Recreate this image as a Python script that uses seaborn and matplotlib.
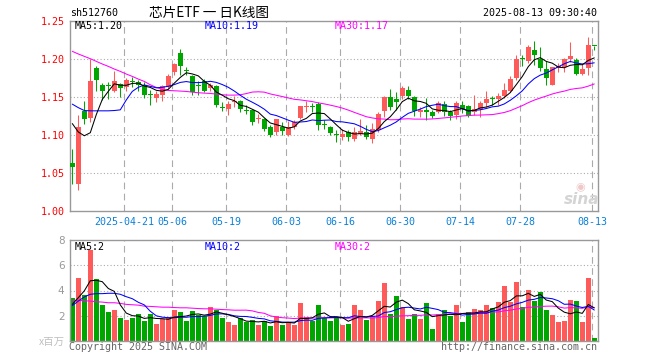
import numpy as np
import pandas as pd
import matplotlib
matplotlib.use("Agg")
import matplotlib.pyplot as plt
import seaborn as sns

# ---------------- data ----------------
opens = [1.0636, 1.0359, 1.1322, 1.1221, 1.1877, 1.1661, 1.1648, 1.1573, 1.1670, 1.1630,
         1.1705, 1.1696, 1.1661, 1.1534, 1.1481, 1.1520, 1.1630, 1.1828, 1.2079, 1.1850,
         1.1780, 1.1652, 1.1705, 1.1617, 1.1639, 1.1362, 1.1344, 1.1428, 1.1450, 1.1331,
         1.1331, 1.1212, 1.1212, 1.1107, 1.1045, 1.1111, 1.1001, 1.1102, 1.1221, 1.1371,
         1.1384, 1.1410, 1.1142, 1.1111, 1.1010, 1.0979, 1.1036, 1.0948, 1.1019, 1.1036,
         1.0948, 1.1067, 1.1318, 1.1494, 1.1476, 1.1507, 1.1595, 1.1494, 1.1309, 1.1331,
         1.1309, 1.1309, 1.1406, 1.1300, 1.1265, 1.1397, 1.1388, 1.1300, 1.1344, 1.1419,
         1.1481, 1.1476, 1.1507, 1.1573, 1.1749, 1.2013, 1.1969, 1.2123, 1.2000, 1.1872,
         1.1661, 1.1881, 1.1890, 1.2000, 1.1991, 1.1802, 1.1881, 1.2176]
highs = [1.0816, 1.1265, 1.1441, 1.2000, 1.1912, 1.1683, 1.1696, 1.1846, 1.1683, 1.1749,
         1.1758, 1.1718, 1.1692, 1.1595, 1.1573, 1.1661, 1.1802, 1.1947, 1.2136, 1.1894,
         1.1793, 1.1705, 1.1740, 1.1683, 1.1652, 1.1428, 1.1450, 1.1507, 1.1463, 1.1397,
         1.1344, 1.1274, 1.1221, 1.1133, 1.1212, 1.1168, 1.1186, 1.1199, 1.1388, 1.1441,
         1.1419, 1.1428, 1.1199, 1.1124, 1.1067, 1.1080, 1.1067, 1.1111, 1.1212, 1.1133,
         1.1155, 1.1300, 1.1507, 1.1608, 1.1564, 1.1639, 1.1639, 1.1507, 1.1375, 1.1485,
         1.1331, 1.1441, 1.1441, 1.1331, 1.1450, 1.1450, 1.1397, 1.1520, 1.1441, 1.1582,
         1.1507, 1.1551, 1.1683, 1.1771, 1.2057, 1.2048, 1.2189, 1.2233, 1.2154, 1.1978,
         1.1894, 1.1947, 1.2013, 1.2224, 1.2013, 1.1934, 1.2286, 1.2176]
lows = [1.0359, 1.0280, 1.1142, 1.1168, 1.1573, 1.1463, 1.1476, 1.1564, 1.1503, 1.1573,
        1.1626, 1.1573, 1.1485, 1.1397, 1.1428, 1.1441, 1.1608, 1.1793, 1.1793, 1.1784,
        1.1529, 1.1529, 1.1564, 1.1573, 1.1375, 1.1318, 1.1265, 1.1375, 1.1309, 1.1274,
        1.1133, 1.1155, 1.1054, 1.0979, 1.1001, 1.1001, 1.0992, 1.1080, 1.1212, 1.1300,
        1.1309, 1.1067, 1.1076, 1.1001, 1.0913, 1.0935, 1.0922, 1.0922, 1.1001, 1.0948,
        1.0891, 1.1045, 1.1243, 1.1331, 1.1331, 1.1476, 1.1476, 1.1253, 1.1243, 1.1199,
        1.1230, 1.1287, 1.1256, 1.1199, 1.1212, 1.1287, 1.1243, 1.1265, 1.1243, 1.1362,
        1.1397, 1.1397, 1.1485, 1.1564, 1.1727, 1.1903, 1.1947, 1.1925, 1.1846, 1.1652,
        1.1652, 1.1828, 1.1828, 1.1960, 1.1784, 1.1784, 1.1793, 1.2123]
closes = [1.0574, 1.1111, 1.1217, 1.1714, 1.1727, 1.1573, 1.1640, 1.1714, 1.1617, 1.1727,
          1.1696, 1.1652, 1.1529, 1.1525, 1.1538, 1.1639, 1.1771, 1.1938, 1.1903, 1.1842,
          1.1564, 1.1644, 1.1573, 1.1652, 1.1397, 1.1353, 1.1410, 1.1450, 1.1344, 1.1322,
          1.1168, 1.1220, 1.1080, 1.1001, 1.1212, 1.1054, 1.1102, 1.1168, 1.1384, 1.1384,
          1.1375, 1.1133, 1.1133, 1.1032, 1.1001, 1.1019, 1.0979, 1.1036, 1.1054, 1.0979,
          1.1076, 1.1278, 1.1494, 1.1375, 1.1432, 1.1617, 1.1507, 1.1318, 1.1331, 1.1309,
          1.1252, 1.1419, 1.1300, 1.1256, 1.1419, 1.1344, 1.1256, 1.1344, 1.1419, 1.1476,
          1.1472, 1.1507, 1.1595, 1.1740, 1.2000, 1.2004, 1.2158, 1.2048, 1.1881, 1.1749,
          1.1890, 1.1903, 1.2000, 1.2044, 1.1802, 1.1872, 1.2189, 1.2167]
volumes = [3.40, 4.96, 3.62, 7.18, 4.88, 2.84, 2.28, 2.47, 1.82, 1.64,
           1.82, 2.12, 1.55, 2.12, 1.31, 1.74, 1.88, 2.44, 2.28, 1.55,
           2.36, 2.09, 1.96, 2.68, 2.44, 1.82, 1.47, 1.29, 1.82, 1.47,
           1.69, 1.29, 1.55, 1.15, 1.96, 1.29, 1.42, 1.29, 3.03, 1.88,
           1.55, 2.84, 1.82, 1.55, 1.88, 1.23, 1.34, 2.84, 2.44, 1.64,
           1.88, 3.16, 4.61, 2.17, 3.57, 2.68, 1.77, 2.17, 1.72, 3.00,
           0.99, 2.17, 2.44, 1.96, 2.84, 1.47, 2.28, 2.52, 2.44, 2.84,
           2.63, 3.08, 4.37, 3.08, 4.69, 2.68, 4.05, 3.16, 3.89, 2.44,
           2.04, 1.50, 1.55, 3.24, 3.16, 1.50, 5.01, 0.21]

# moving-average values at the start of the window (earlier history not shown)
ma5_head = [1.115, 1.104, 1.099, 1.103]
ma10_head = [1.1406, 1.136, 1.1322, 1.1318, 1.1318, 1.1318, 1.1318, 1.1322, 1.1331]
ma30_head = [1.2101, 1.2066, 1.2035, 1.2004, 1.1969, 1.1934, 1.1903, 1.1868, 1.1837, 1.1802,
             1.1771, 1.1736, 1.1705, 1.1661, 1.1626, 1.1600, 1.1586, 1.1582, 1.1578, 1.1573,
             1.1564, 1.1556, 1.1551, 1.1547, 1.1538, 1.1529, 1.1525, 1.1525, 1.1529]
vma5_head = [2.90, 3.43, 3.97, 4.77]
vma10_head = [2.80, 3.16, 3.49, 3.70, 3.75, 3.75, 3.78, 3.78, 3.70]
vma30_head = [3.22, 3.22, 3.19, 3.16, 3.11, 3.08, 3.03, 3.03, 2.98, 2.90,
              2.87, 2.84, 2.76, 2.74, 2.71, 2.68, 2.68, 2.65, 2.63, 2.63,
              2.60, 2.57, 2.55, 2.55, 2.52, 2.49, 2.47, 2.44, 2.44]

tick_index = [9, 17, 26, 36, 45, 55, 65, 75, 87]
tick_labels = ["2025-04-21", "05-06", "05-19", "06-03", "06-16", "06-30", "07-14", "07-28", "08-13"]
price_ticks = [1.00, 1.05, 1.10, 1.15, 1.20, 1.25]
vol_ticks = [2, 4, 6, 8]

title_text = "芯片ETF 一 日K线图"
code_text = "sh512760"
time_text = "2025-08-13 09:30:40"
ma_labels = ["MA5:1.20", "MA10:1.19", "MA30:1.17"]
vma_labels = ["MA5:2", "MA10:2", "MA30:2"]

# ---------------- derived ----------------
df = pd.DataFrame({"open": opens, "high": highs, "low": lows, "close": closes, "vol": volumes})
df["idx"] = np.arange(len(df))


def with_head(series, n, head):
    r = series.rolling(n).mean().to_numpy()
    r[:len(head)] = head
    return r


df["ma5"] = with_head(df["close"], 5, ma5_head)
df["ma10"] = with_head(df["close"], 10, ma10_head)
df["ma30"] = with_head(df["close"], 30, ma30_head)
df["vma5"] = with_head(df["vol"], 5, vma5_head)
df["vma10"] = with_head(df["vol"], 10, vma10_head)
df["vma30"] = with_head(df["vol"], 30, vma30_head)

RED = "#ff5a5a"
GREEN = "#00a600"
up = df["close"] >= df["open"]
colors = np.where(up, RED, GREEN)

# ---------------- figure ----------------
sns.set_theme(style="white")
plt.rcParams["font.family"] = ["DejaVu Sans Mono", "Noto Sans CJK SC"]
W, H = 660, 360
fig = plt.figure(figsize=(W / 100, H / 100), dpi=100)
fig.patch.set_facecolor("white")


def fx(px):
    return px / W


def fy(py):
    return 1 - py / H


ax = fig.add_axes([fx(70), fy(211), fx(528), 190 / H])
axv = fig.add_axes([fx(70), fy(341), fx(528), 101 / H])

xmin, xmax = -0.383, 87.62
tick_pos = [t - 0.33 for t in tick_index]
GRID = "#aaaaaa"
LW = 0.75

for a in (ax, axv):
    a.set_facecolor("white")
    a.set_xlim(xmin, xmax)
    for s in a.spines.values():
        s.set_color("#999999")
        s.set_linewidth(1.0)
    for t in tick_pos:
        a.axvline(t, color=GRID, lw=0.8, ls=(0, (6, 4)), zorder=0)

# main price panel
ax.set_ylim(1.00, 1.25)
for p in price_ticks[1:-1]:
    ax.axhline(p, color=GRID, lw=0.8, ls=(0, (1, 2)), zorder=0)

ax.vlines(df["idx"], df["low"], df["high"], colors=colors, lw=0.75, zorder=2)
body_bottom = np.minimum(df["open"], df["close"])
body_h = np.maximum((df["close"] - df["open"]).abs(), 0.0013)
ax.bar(df["idx"], body_h, bottom=body_bottom, width=0.75, color=colors, linewidth=0, zorder=3)

sns.lineplot(x=df["idx"], y=df["ma30"], ax=ax, color="#ff00ff", lw=LW, zorder=4)
sns.lineplot(x=df["idx"], y=df["ma10"], ax=ax, color="#0000ff", lw=LW, zorder=4)
sns.lineplot(x=df["idx"], y=df["ma5"], ax=ax, color="#000000", lw=LW, zorder=5)

ax.set_yticks(price_ticks)
ax.set_yticklabels([f"{p:.2f}" for p in price_ticks], color="#ff0000", fontsize=7.2)
ax.set_xticks(tick_pos)
ax.set_xticklabels(tick_labels, color="#0a80d8", fontsize=7.2)
ax.tick_params(axis="both", length=0, pad=4)
ax.set_xlabel("")
ax.set_ylabel("")

# volume panel
axv.set_ylim(0, 8)
for v in vol_ticks[:-1]:
    axv.axhline(v, color=GRID, lw=0.8, ls=(0, (1, 2)), zorder=0)
axv.bar(df["idx"], df["vol"], width=0.78, color=colors, linewidth=0, zorder=2)
sns.lineplot(x=df["idx"], y=df["vma30"], ax=axv, color="#ff00ff", lw=LW, zorder=4)
sns.lineplot(x=df["idx"], y=df["vma10"], ax=axv, color="#0000ff", lw=LW, zorder=4)
sns.lineplot(x=df["idx"], y=df["vma5"], ax=axv, color="#000000", lw=LW, zorder=5)
axv.set_yticks(vol_ticks)
axv.set_yticklabels([str(v) for v in vol_ticks], color="#999999", fontsize=7.5,
                    family="DejaVu Sans")
axv.set_xticks([])
axv.tick_params(axis="both", length=0, pad=4)
axv.set_xlabel("")
axv.set_ylabel("")

# ---------------- texts ----------------
fig.text(fx(70), fy(13), code_text, fontsize=7.2, color="#000000", va="center", ha="left")
fig.text(fx(209), fy(13), title_text, fontsize=9.8, color="#000000", va="center", ha="center",
         family=["Noto Sans CJK SC", "DejaVu Sans"])
fig.text(fx(597), fy(13), time_text, fontsize=7.2, color="#000000", va="center", ha="right")

ma_cols = ["#000000", "#0000ff", "#ff00ff"]
ma_x = [75, 205, 335]
for lab, c, x in zip(ma_labels, ma_cols, ma_x):
    fig.text(fx(x), fy(26), lab, fontsize=7.2, color=c, va="center", ha="left")
for lab, c, x in zip(vma_labels, ma_cols, ma_x):
    fig.text(fx(x), fy(247), lab, fontsize=7.2, color=c, va="center", ha="left")

fig.text(fx(65), fy(342), "x百万", fontsize=7.5, color="#c0c0c0", va="center", ha="right",
         family=["Noto Sans CJK SC", "DejaVu Sans"])
fig.text(fx(69), fy(347), "Copyright 2025 SINA.COM", fontsize=7.2, color="#666666",
         va="center", ha="left")
fig.text(fx(597), fy(347), "http://finance.sina.com.cn", fontsize=7.2, color="#666666",
         va="center", ha="right")

# sina watermark
fig.text(fx(582), fy(199), "sina", fontsize=11, color="#d4d4d4", va="center", ha="center",
         fontweight="bold", style="italic", family="DejaVu Sans")
fig.text(fx(580), fy(187), "◉", fontsize=8, color="#f0c8c8", va="center", ha="center",
         family="DejaVu Sans")

fig.savefig("out.png", dpi=100, facecolor="white")
